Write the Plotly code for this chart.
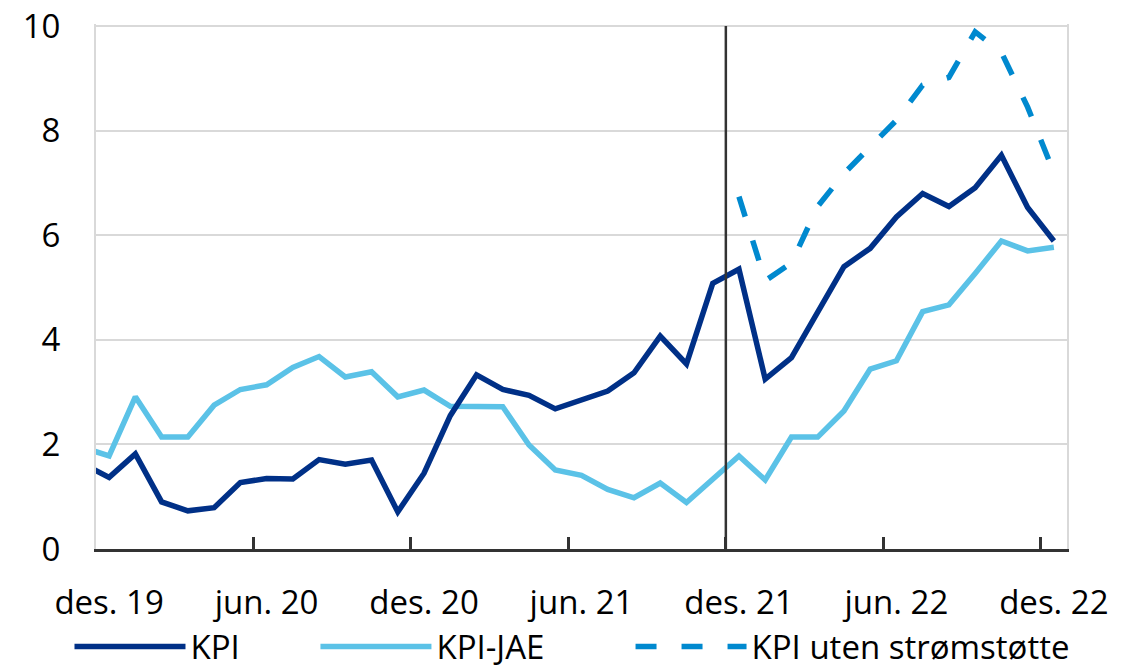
import plotly.graph_objects as go

# Month categories, nov. 19 - des. 22 (nov. 19 sits just left of the visible range)
month_names = ["jan.", "feb.", "mar.", "apr.", "mai", "jun.",
               "jul.", "aug.", "sep.", "okt.", "nov.", "des."]
months = ["nov. 19", "des. 19"] + [f"{m} {y}" for y in (20, 21, 22) for m in month_names]

tick_labels = ["des. 19", "jun. 20", "des. 20", "jun. 21", "des. 21", "jun. 22", "des. 22"]

kpi = [1.63, 1.37,
       1.82, 0.90, 0.73, 0.79, 1.27, 1.35, 1.34, 1.71, 1.62, 1.70, 0.71, 1.45,
       2.55, 3.33, 3.05, 2.94, 2.68, 2.86, 3.02, 3.37, 4.07, 3.54, 5.08, 5.35,
       3.25, 3.66, 4.52, 5.40, 5.75, 6.35, 6.80, 6.55, 6.91, 7.53, 6.53, 5.89]

kpi_jae = [1.94, 1.78,
           2.91, 2.14, 2.14, 2.75, 3.05, 3.14, 3.47, 3.68, 3.29, 3.39, 2.91, 3.04,
           2.73, 2.72, 2.72, 1.99, 1.51, 1.41, 1.14, 0.98, 1.26, 0.89, 1.32, 1.78,
           1.32, 2.14, 2.14, 2.64, 3.44, 3.60, 4.54, 4.67, 5.27, 5.89, 5.70, 5.77]

kpi_uten = [None] * 25 + [6.74,
            5.13, 5.47, 6.55, 7.18, 7.68, 8.20, 8.87, 9.02, 9.89, 9.50, 8.45, 7.20]

divider_month = "des. 21"

font = "Open Sans, Noto Sans, sans-serif"

fig = go.Figure()
fig.add_trace(go.Scatter(x=months, y=kpi_jae, name="KPI-JAE", mode="lines",
                         line=dict(color="#5BC2E7", width=5.5), legend="legend2"))
fig.add_trace(go.Scatter(x=months, y=kpi, name="KPI", mode="lines",
                         line=dict(color="#003087", width=5.5), legend="legend"))
fig.add_trace(go.Scatter(x=months, y=kpi_uten, name="KPI uten strømstøtte", mode="lines",
                         line=dict(color="#0089CF", width=5.5, dash="21px,25px"),
                         legend="legend3"))

# vertical divider at the start of des. 21, from the axis up to the top gridline
div_x = months.index(divider_month) - 0.5
fig.add_shape(type="line", xref="x", yref="y", x0=div_x, x1=div_x, y0=-0.08, y1=10,
              line=dict(color="#333333", width=2.5))

# one legend per series so each entry can sit where the original has it
leg = dict(orientation="h", xanchor="left", y=-0.186, yanchor="middle",
           font=dict(size=33), itemwidth=111, bgcolor="rgba(0,0,0,0)")

fig.update_layout(
    width=1134, height=658,
    margin=dict(l=88, r=75, t=16, b=117, autoexpand=False),
    plot_bgcolor="white", paper_bgcolor="white",
    font=dict(family=font, size=33, color="black"),
    showlegend=True,
    legend=dict(leg, x=-0.0273),
    legend2=dict(leg, x=0.226),
    legend3=dict(leg, x=0.5505),
)
fig.update_xaxes(
    type="category", range=[0.5, len(months) - 0.5],
    tickmode="array", tickvals=tick_labels, tickson="boundaries", tickangle=0,
    ticks="inside", ticklen=12, tickwidth=2.5, tickcolor="#333333",
    showline=True, linecolor="#333333", linewidth=2.7, automargin=False,
    showgrid=False, zeroline=False, ticklabelstandoff=23,
)
# range stops just above 10 so the top gridline is kept as the frame's top edge
fig.update_yaxes(
    range=[0, 10.04], tickmode="array", tickvals=[0, 2, 4, 6, 8, 10],
    showgrid=True, gridcolor="#d9d9d9", gridwidth=2, automargin=False,
    showline=True, linecolor="#d9d9d9", linewidth=2, mirror=True,
    zeroline=False, ticks="", ticklabelstandoff=27, ticklabeloverflow="allow",
)

fig.write_html("out.html")
